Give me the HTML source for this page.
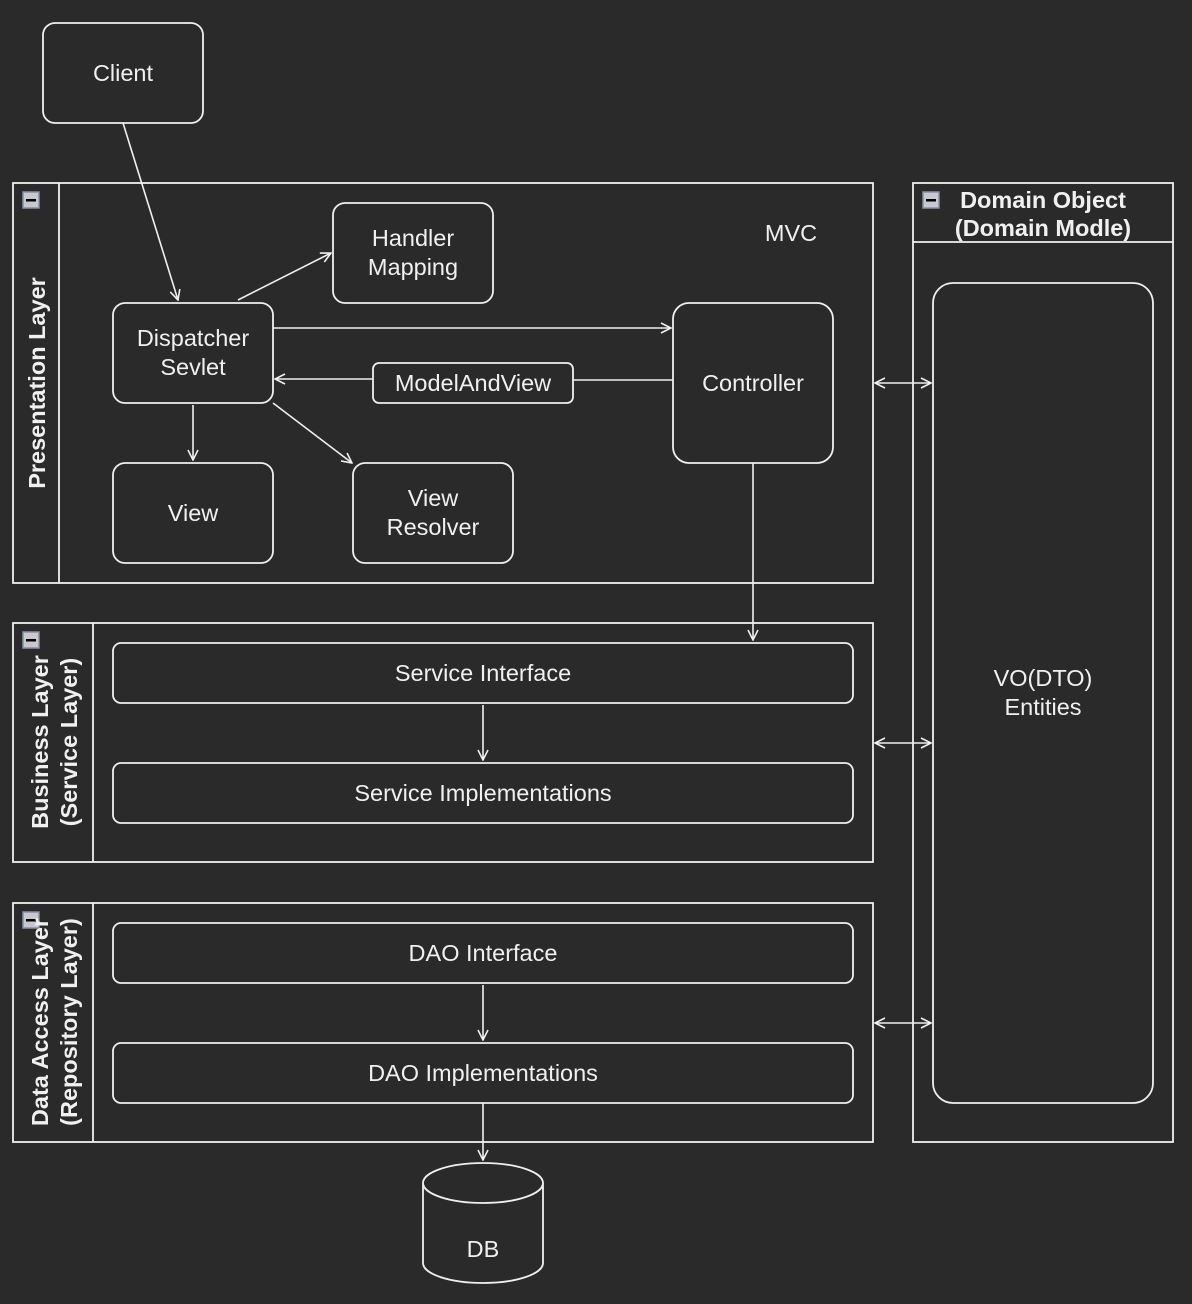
<!DOCTYPE html>
<html><head><style>
html,body{margin:0;padding:0;background:#2a2a2a;}
svg{display:block;}
text{font-family:"Liberation Sans",sans-serif;fill:#f0f0f0;font-size:23.5px;}
.b{font-weight:bold;font-size:23.5px;}
</style></head><body>
<svg width="1192" height="1304" viewBox="0 0 1192 1304">
<defs>
<marker id="a" viewBox="0 0 12 12" refX="11" refY="6" markerWidth="12" markerHeight="12" markerUnits="userSpaceOnUse" orient="auto-start-reverse">
<path d="M1,1 L11,6 L1,11" fill="none" stroke="#f0f0f0" stroke-width="1.6"/>
</marker>
<g id="mi"><rect x="0" y="0" width="16" height="16" fill="#c8c8d0" stroke="#8890a0" stroke-width="1.5"/><rect x="3" y="7" width="10" height="2.5" fill="#000"/></g>
</defs>
<g fill="none" stroke="#f0f0f0" stroke-width="1.8">
<rect x="43" y="23" width="160" height="100" rx="12"/>
<rect x="13" y="183" width="860" height="400"/><line x1="59" y1="183" x2="59" y2="583"/>
<rect x="333" y="203" width="160" height="100" rx="12"/>
<rect x="113" y="303" width="160" height="100" rx="12"/>
<rect x="673" y="303" width="160" height="160" rx="16"/>
<rect x="373" y="363" width="200" height="40" rx="6"/>
<rect x="113" y="463" width="160" height="100" rx="12"/>
<rect x="353" y="463" width="160" height="100" rx="12"/>
<rect x="13" y="623" width="860" height="239"/><line x1="93" y1="623" x2="93" y2="862"/>
<rect x="113" y="643" width="740" height="60" rx="8"/>
<rect x="113" y="763" width="740" height="60" rx="8"/>
<rect x="13" y="903" width="860" height="239"/><line x1="93" y1="903" x2="93" y2="1142"/>
<rect x="113" y="923" width="740" height="60" rx="8"/>
<rect x="113" y="1043" width="740" height="60" rx="8"/>
<rect x="913" y="183" width="260" height="959"/><line x1="913" y1="242" x2="1173" y2="242"/>
<rect x="933" y="283" width="220" height="820" rx="20"/>
<path d="M423,1183 L423,1263 A60,20 0 0 0 543,1263 L543,1183 A60,20 0 0 0 423,1183 A60,20 0 0 0 543,1183"/>
</g>
<g fill="none" stroke="#f0f0f0" stroke-width="1.6" marker-end="url(#a)">
<line x1="123" y1="123" x2="178" y2="300"/>
<line x1="238" y1="300" x2="331" y2="253"/>
<line x1="273" y1="328" x2="671" y2="328"/>
<line x1="673" y1="380" x2="573" y2="380" marker-end="none"/>
<line x1="373" y1="379" x2="275" y2="379"/>
<line x1="193" y1="405" x2="193" y2="460"/>
<line x1="273" y1="403" x2="352" y2="463"/>
<line x1="753" y1="463" x2="753" y2="640"/>
<line x1="483" y1="705" x2="483" y2="760"/>
<line x1="483" y1="985" x2="483" y2="1040"/>
<line x1="483" y1="1103" x2="483" y2="1160"/>
<line x1="875" y1="383" x2="931" y2="383" marker-start="url(#a)"/>
<line x1="875" y1="743" x2="931" y2="743" marker-start="url(#a)"/>
<line x1="875" y1="1023" x2="931" y2="1023" marker-start="url(#a)"/>
</g>
<use href="#mi" x="23" y="192"/>
<use href="#mi" x="23" y="632"/>
<use href="#mi" x="23" y="912"/>
<use href="#mi" x="923" y="192"/>
<g text-anchor="middle">
<text x="123" y="81">Client</text>
<text x="791" y="241">MVC</text>
<text x="413" y="246">Handler</text><text x="413" y="275">Mapping</text>
<text x="193" y="346">Dispatcher</text><text x="193" y="375">Sevlet</text>
<text x="753" y="391">Controller</text>
<text x="473" y="391">ModelAndView</text>
<text x="193" y="521">View</text>
<text x="433" y="506">View</text><text x="433" y="535">Resolver</text>
<text x="483" y="681">Service Interface</text>
<text x="483" y="801">Service Implementations</text>
<text x="483" y="961">DAO Interface</text>
<text x="483" y="1081">DAO Implementations</text>
<text x="1043" y="686">VO(DTO)</text><text x="1043" y="715">Entities</text>
<text x="483" y="1257">DB</text>
<text class="b" x="1043" y="208">Domain Object</text>
<text class="b" x="1043" y="236">(Domain Modle)</text>
<text class="b" transform="translate(45,383) rotate(-90)">Presentation Layer</text>
<text class="b" transform="translate(48,742) rotate(-90)">Business Layer</text>
<text class="b" transform="translate(77,742) rotate(-90)">(Service Layer)</text>
<text class="b" transform="translate(48,1022) rotate(-90)">Data Access Layer</text>
<text class="b" transform="translate(77,1022) rotate(-90)">(Repository Layer)</text>
</g>
</svg>
</body></html>
